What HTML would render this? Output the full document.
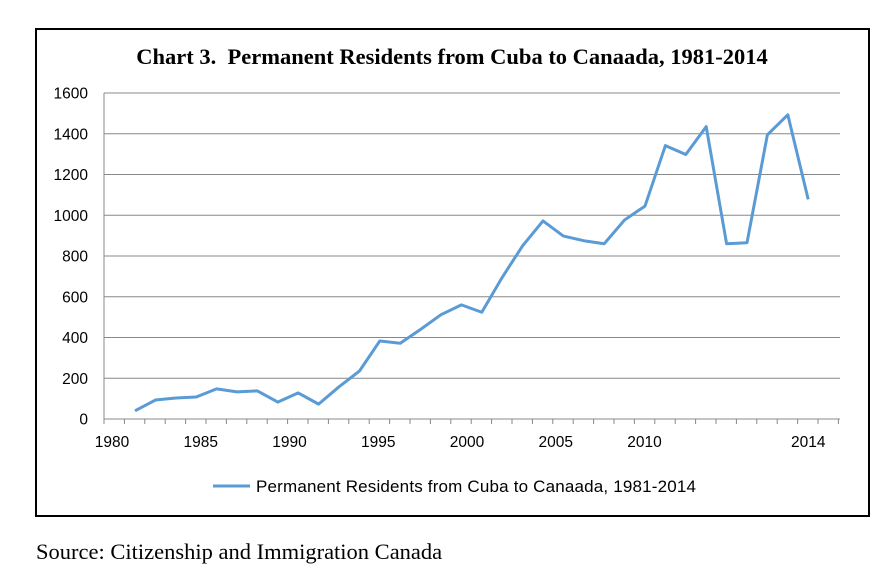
<!DOCTYPE html>
<html><head><meta charset="utf-8"><style>
body{margin:0;width:894px;height:572px;background:#fff;overflow:hidden;position:relative;font-family:"Liberation Sans",sans-serif}
#frame{position:absolute;left:35px;top:28px;width:831px;height:485px;border:2px solid #000}
#src{position:absolute;left:36px;top:539px;font:22.5px "Liberation Serif",serif;color:#000;white-space:nowrap}
</style></head><body>
<div id="frame"></div>
<svg id="chart" width="894" height="572" style="position:absolute;left:0;top:0"></svg>
<div id="src">Source: Citizenship and Immigration Canada</div>
<script>
const years=[1981,1982,1983,1984,1985,1986,1987,1988,1989,1990,1991,1992,1993,1994,1995,1996,1997,1998,1999,2000,2001,2002,2003,2004,2005,2006,2007,2008,2009,2010,2011,2012,2013,2014];
const values=[40,93,103,108,148,133,138,83,128,73,158,235,383,372,440,512,560,524,695,850,972,898,875,860,977,1045,1342,1298,1435,860,865,1395,1493,1078];
const yTicks=[0,200,400,600,800,1000,1200,1400,1600];
const xLabels=[1980,1985,1990,1995,2000,2005,2010,2014];
const NS="http://www.w3.org/2000/svg";
const svg=document.getElementById('chart');
const x=v=>135+(v-1981)*20.4;
const xl=v=>v<=2010?112+(v-1980)*17.75:x(v);
const y=v=>419-v*0.20375;
function mk(t,a,p){const e=document.createElementNS(NS,t);for(const k in a)e.setAttribute(k,a[k]);(p||svg).appendChild(e);return e;}
const title=mk('text',{x:452,y:64,'text-anchor':'middle','font-family':'Liberation Serif, serif','font-size':'22.5','font-weight':'bold'});
title.textContent='Chart 3.\u00a0 Permanent Residents from Cuba to Canaada, 1981-2014';


yTicks.forEach(t=>{
 const g=mk('line',{x1:104,x2:840,y1:y(t),y2:y(t),stroke:'#888','stroke-width':1});
 
 
 const l=mk('text',{x:88,y:y(t)+5.5,'text-anchor':'end','font-size':'15.5',fill:'#000'});
 l.textContent=t;
 
 
});
mk('line',{x1:104,x2:104,y1:y(1600),y2:y(0),stroke:'#888'});
for(let i=0;i<=36;i++){const tx=104+i*20.4;if(tx>841)break;mk('line',{x1:tx,x2:tx,y1:419,y2:424,stroke:'#888'});}
xLabels.forEach(v=>{
 const l=mk('text',{x:xl(v),y:447,'text-anchor':'middle','font-size':'15.5'});
 l.textContent=v;
 
 
});
const line=mk('polyline',{points:years.map((yr,i)=>x(yr)+','+y(values[i])).join(' '),fill:'none',stroke:'#5b9bd5','stroke-width':3,'stroke-linejoin':'round'});


const lg=mk('line',{x1:213,x2:250,y1:486,y2:486,stroke:'#5b9bd5','stroke-width':3});


const lt=mk('text',{x:256,y:492,'font-size':'17','textLength':'440'});
lt.textContent='Permanent Residents from Cuba to Canaada, 1981-2014';


</script>
</body></html>
